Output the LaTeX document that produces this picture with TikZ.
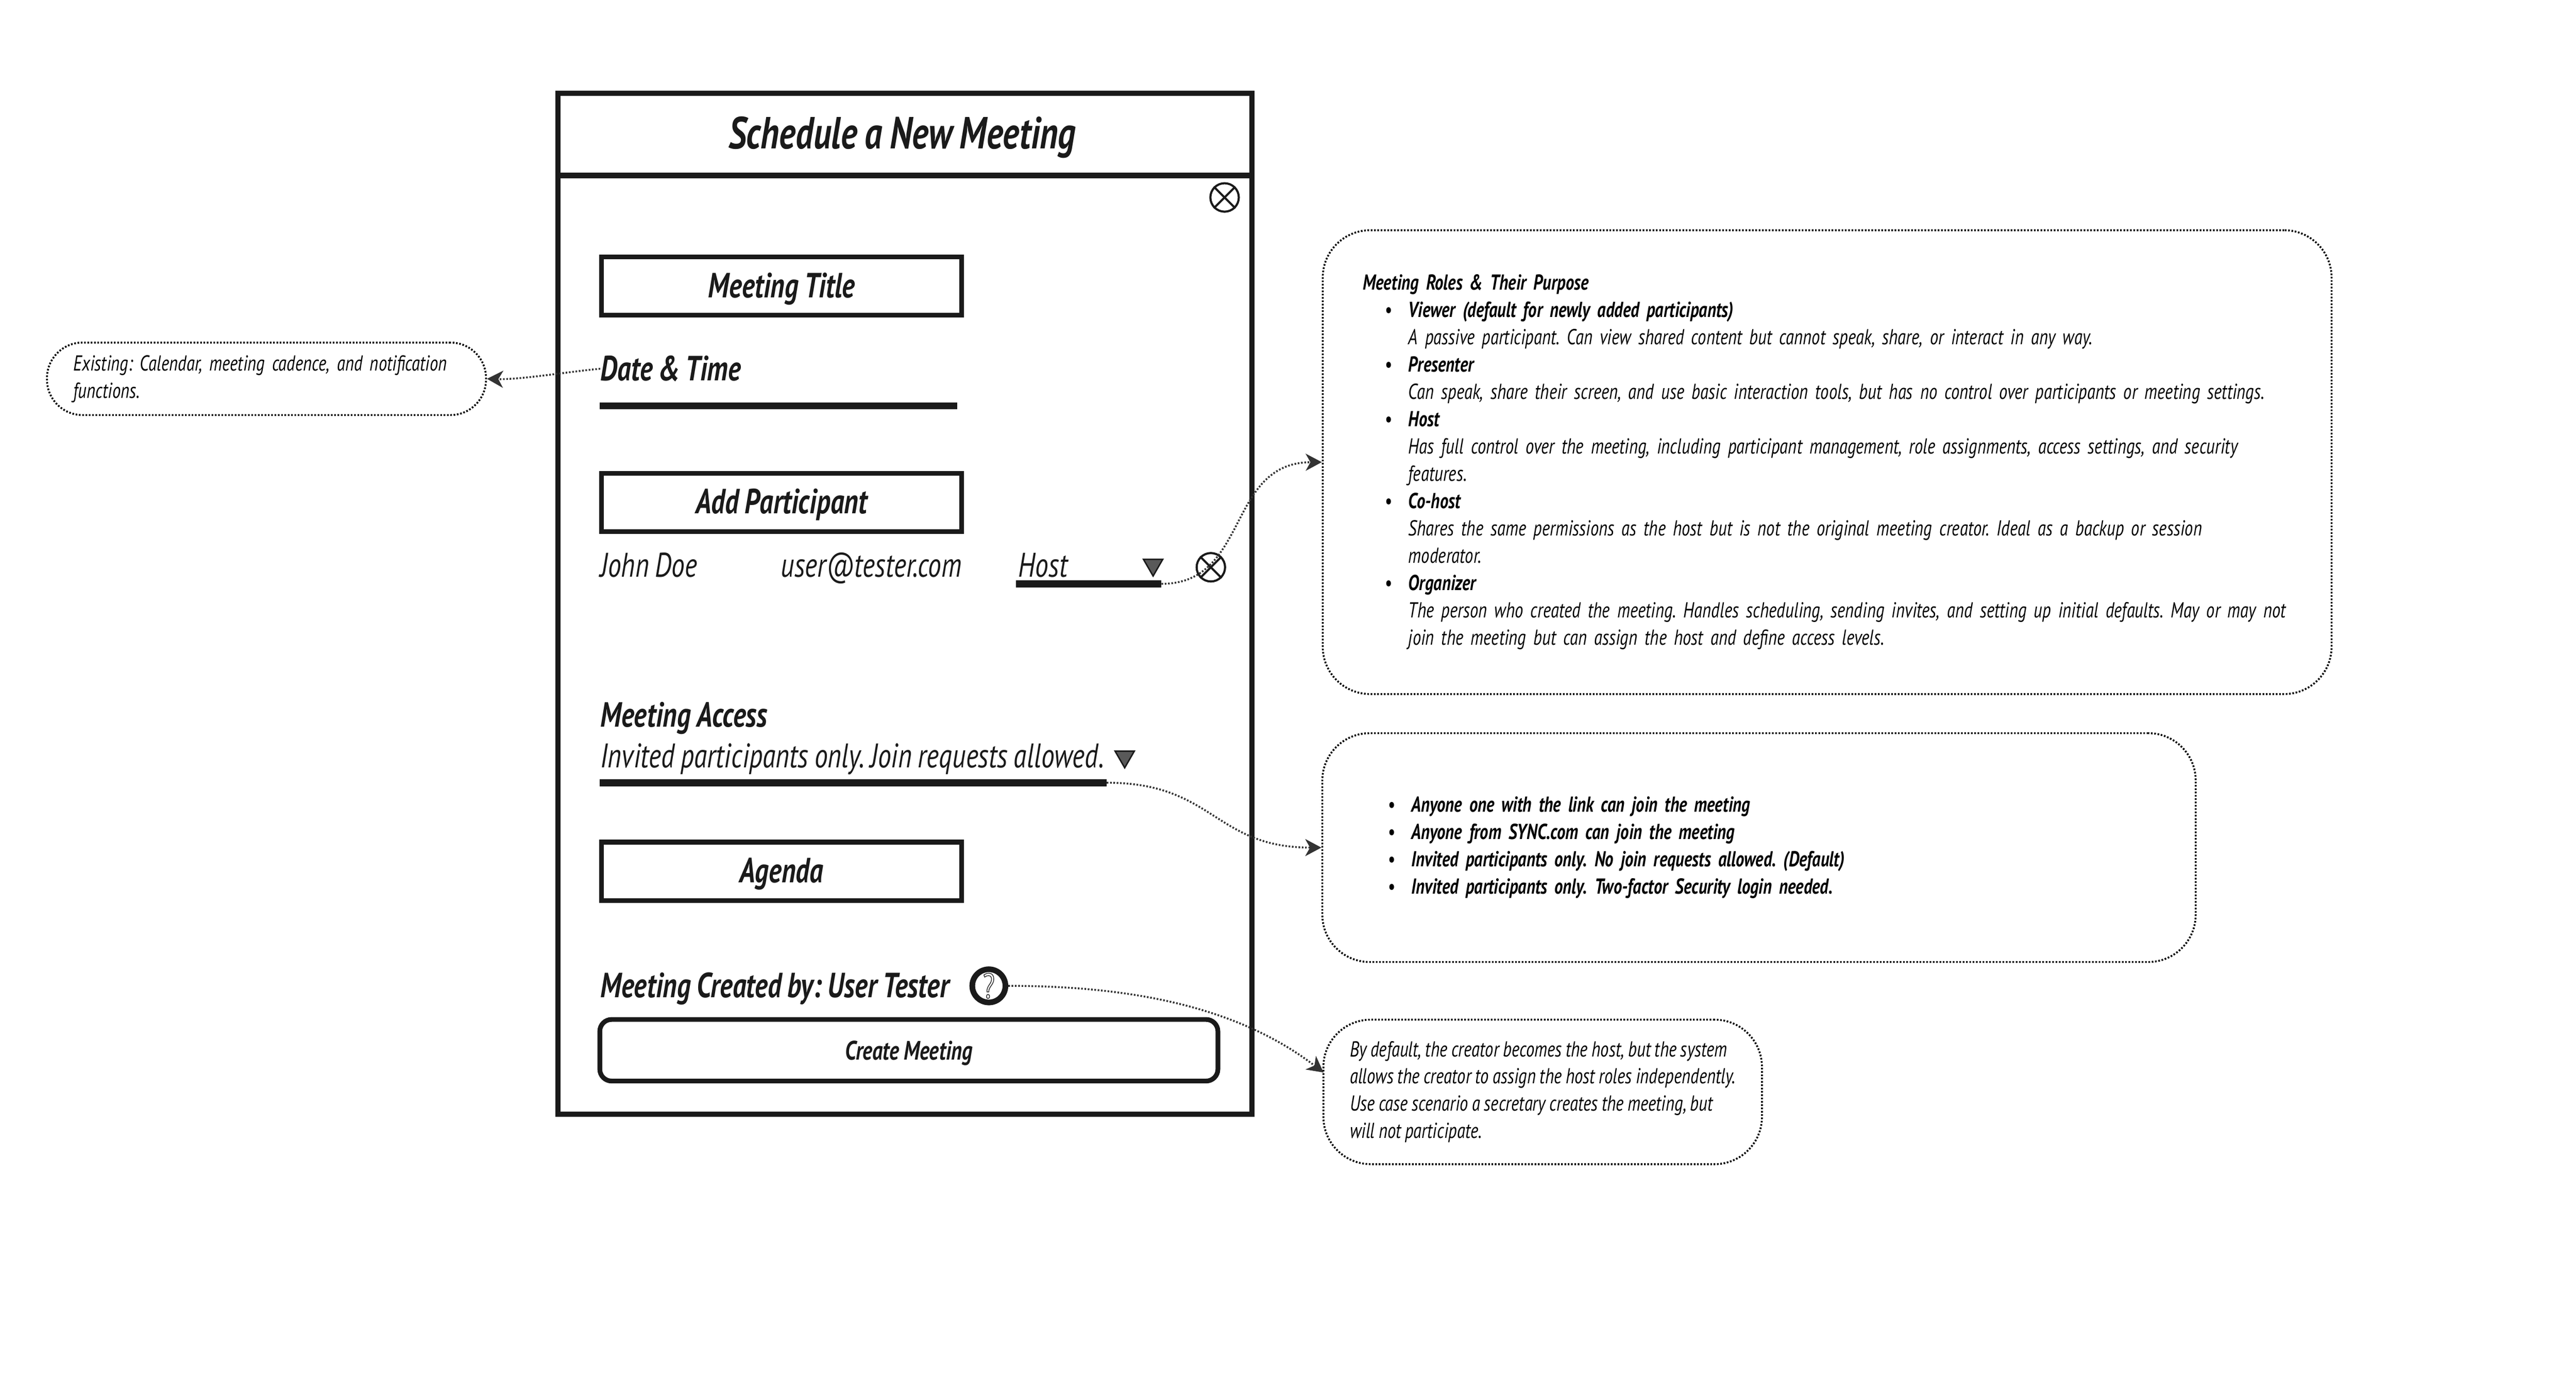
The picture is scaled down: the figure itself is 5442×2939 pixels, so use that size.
\documentclass[tikz,border=0pt]{standalone}
\usepackage{fontspec}
\usepackage{tikz}
\usepackage{xcolor}
\usetikzlibrary{shapes.geometric,arrows.meta}
\setmainfont[FakeStretch=0.78,WordSpace=0.85]{PT Sans}
\frenchspacing
\definecolor{inkdark}{HTML}{1A1A1A}
\definecolor{linkgrey}{HTML}{333333}
\newcommand{\bulletrow}[1]{\hspace*{0.46cm}\makebox[0.5cm][l]{\textbullet}\textbf{#1}}
\newcommand{\plainrow}[1]{\hspace*{0.96cm}#1}
\tikzset{
    panel/.style={rectangle, draw=inkdark, line width=0.11cm},
    fieldbox/.style={rectangle, draw=inkdark, line width=0.1cm, minimum width=7.6cm, minimum height=1.23cm, inner sep=0pt, text height=0.48cm, text depth=0cm, font=\fontsize{21}{24}\selectfont\bfseries\itshape, text=inkdark},
    label/.style={anchor=base west, inner sep=0pt, text=inkdark, font=\fontsize{21}{24}\selectfont\bfseries\itshape},
    entry/.style={anchor=base west, inner sep=0pt, text=inkdark, font=\fontsize{20.5}{24}\selectfont\itshape},
    barline/.style={rectangle, fill=inkdark, anchor=west, inner sep=0pt, minimum height=0.15cm},
    closemark/.style={circle, draw=inkdark, line width=0.045cm, minimum size=0.6cm, inner sep=0pt},
    dropmark/.style={regular polygon, regular polygon sides=3, shape border rotate=180, draw=inkdark, line width=0.03cm, fill=black!65, minimum size=0.47cm, inner sep=0pt},
    note/.style={rectangle, draw=black, rounded corners=1cm, line width=0.04cm, dash pattern=on 0.035cm off 0.035cm, align=left, inner ysep=0pt, inner xsep=0.33cm, text=black, font=\fontsize{13}{16.4}\selectfont\itshape},
    link/.style={draw=linkgrey, line width=0.04cm, dash pattern=on 0.035cm off 0.035cm, -{Stealth[length=0.34cm,width=0.36cm,inset=0.1cm,fill=linkgrey]}}
}
\begin{document}
\begin{tikzpicture}[x=0.01cm, y=-0.01cm]
        \useasboundingbox (0,0) rectangle (5442,2939);
        % dialog frame
        \node (dialog) [panel, minimum width=14.65cm, minimum height=21.55cm] at (1912,1275) {};
        \node (header) [panel, minimum width=14.65cm, minimum height=1.73cm] at (1912,284) {};
        \node (heading) [inner sep=0pt, text height=0.64cm, text depth=0cm, text=inkdark, font=\fontsize{27}{32}\selectfont\bfseries\itshape] at (1906,282) {Schedule a New Meeting};
        \node (closeTop) [closemark] at (2587,417) {};
        \draw [inkdark, line width=0.045cm] (closeTop.45) -- (closeTop.225);
        \draw [inkdark, line width=0.045cm] (closeTop.135) -- (closeTop.315);

        % fields
        \node (titleField) [fieldbox] at (1651,604) {Meeting Title};
        \node (dateTime) [label] at (1268,804) {Date \& Time};
        \node (dateBar) [barline, minimum width=7.55cm] at (1266,857) {};
        \node (addField) [fieldbox] at (1651,1061) {Add Participant};

        % participant row
        \node (userName) [entry] at (1268,1218) {John Doe};
        \node (userMail) [entry] at (1649,1218) {user@tester.com};
        \node (userRole) [entry] at (2151,1218) {Host};
        \node (roleBar) [barline, minimum width=3.06cm] at (2146,1233) {};
        \node (roleDrop) [dropmark] at (2436,1193) {};
        \node (closeRow) [closemark] at (2558,1198) {};
        \draw [inkdark, line width=0.045cm] (closeRow.45) -- (closeRow.225);
        \draw [inkdark, line width=0.045cm] (closeRow.135) -- (closeRow.315);

        % access
        \node (accessLabel) [label] at (1268,1535) {Meeting Access};
        \node (accessValue) [entry] at (1268,1621) {Invited participants only. Join requests allowed.};
        \node (accessBar) [barline, minimum width=10.7cm] at (1266,1653) {};
        \node (accessDrop) [dropmark] at (2376,1598) {};
        \node (agendaField) [fieldbox] at (1651,1840) {Agenda};

        % creator row
        \node (creator) [label] at (1268,2107) {Meeting Created by: User Tester};
        \node (helpMark) [circle, draw=inkdark, line width=0.12cm, minimum size=0.7cm, inner sep=0pt, text=inkdark, font=\fontsize{21}{24}\selectfont] at (2089,2082) {\special{pdf:code 1 Tr 0.4 w}?\special{pdf:code 0 Tr}};
        \node (createBtn) [rectangle, draw=inkdark, line width=0.1cm, rounded corners=0.25cm, minimum width=13.05cm, minimum height=1.3cm, inner sep=0pt, text height=0.4cm, text depth=0cm, text=inkdark, font=\fontsize{16}{19}\selectfont\bfseries\itshape] at (1920,2218) {Create Meeting};

        % notes
        \node (noteCalendar) [note, rounded corners=0.75cm, minimum width=9.27cm, minimum height=1.53cm, inner xsep=0.56cm, text width=8.15cm] at (563,800) {Existing: Calendar, meeting cadence, and notification\\functions.};
        \node (noteRoles) [note, minimum width=21.3cm, minimum height=9.79cm, inner xsep=0.85cm, text width=19.6cm] at (3860,976) {\textbf{Meeting Roles \& Their Purpose}\\
            \bulletrow{Viewer (default for newly added participants)}\\
            \plainrow{A passive participant. Can view shared content but cannot speak, share, or interact in any way.}\\
            \bulletrow{Presenter}\\
            \plainrow{Can speak, share their screen, and use basic interaction tools, but has no control over participants or meeting settings.}\\
            \bulletrow{Host}\\
            \plainrow{Has full control over the meeting, including participant management, role assignments, access settings, and security}\\
            \plainrow{features.}\\
            \bulletrow{Co-host}\\
            \plainrow{Shares the same permissions as the host but is not the original meeting creator. Ideal as a backup or session}\\
            \plainrow{moderator.}\\
            \bulletrow{Organizer}\\
            \plainrow{The person who created the meeting. Handles scheduling, sending invites, and setting up initial defaults. May or may not}\\
            \plainrow{join the meeting but can assign the host and define access levels.}};
        \node (noteAccess) [note, minimum width=18.44cm, minimum height=4.83cm, inner xsep=0.89cm, text width=16.6cm] at (3716,1790) {\bulletrow{Anyone one with the link can join the meeting}\\
            \bulletrow{Anyone from SYNC.com can join the meeting}\\
            \bulletrow{Invited participants only. No join requests allowed. (Default)}\\
            \bulletrow{Invited participants only. Two-factor Security login needed.}};
        \node (noteCreator) [note, minimum width=9.26cm, minimum height=3.05cm] at (3259,2306) {By default, the creator becomes the host, but the system\\allows the creator to assign the host roles independently.\\Use case scenario a secretary creates the meeting, but\\will not participate.};
        \coordinate (creatorIn) at (2796,2265);

        % connectors
        \draw [link] (dateTime.west) .. controls (1200,785) and (1100,802) .. (noteCalendar.east);
        \draw [link] (roleBar.east) .. controls (2640,1233) and (2590,977) .. (noteRoles.west);
        \draw [link] (accessBar.east) .. controls (2565,1653) and (2565,1790) .. (noteAccess.west);
        \draw [link] (helpMark.east) .. controls (2400,2082) and (2620,2130) .. (creatorIn);
    \end{tikzpicture}
\end{document}
